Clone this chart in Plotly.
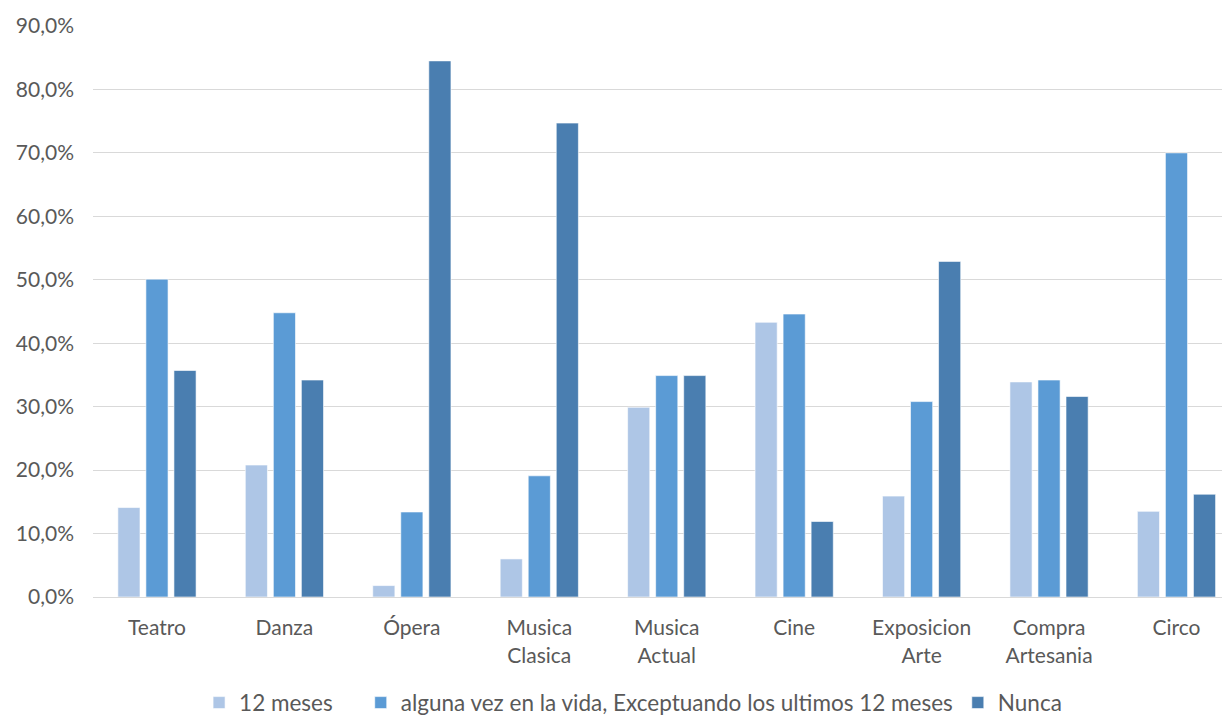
import plotly.graph_objects as go

categories = ["Teatro", "Danza", "Ópera", "Musica<br>Clasica", "Musica<br>Actual",
              "Cine", "Exposicion<br>Arte", "Compra<br>Artesania", "Circo"]
series_names = ["12 meses",
                "alguna vez en la vida, Exceptuando los ultimos 12 meses",
                "Nunca"]
doce_meses = [14.1, 20.8, 1.8, 6.0, 29.9, 43.3, 15.9, 33.9, 13.5]
alguna_vez = [50.1, 44.8, 13.4, 19.1, 34.9, 44.6, 30.8, 34.2, 70.0]
nunca = [35.7, 34.2, 84.5, 74.7, 34.9, 11.9, 52.9, 31.6, 16.2]
colors = ["#AEC6E6", "#5B9BD5", "#4A7EB0"]
y_ticks = [0, 10, 20, 30, 40, 50, 60, 70, 80, 90]
y_tick_text = ["0,0%", "10,0%", "20,0%", "30,0%", "40,0%", "50,0%", "60,0%",
               "70,0%", "80,0%", "90,0%"]

legend_pad = ["\u00a0" * 4, "", ""]
x_pos = list(range(len(categories)))

fig = go.Figure()
for name, pad, vals, col in zip(series_names, legend_pad,
                                [doce_meses, alguna_vez, nunca], colors):
    fig.add_trace(go.Bar(
        x=x_pos, y=vals, name=name + pad,
        marker=dict(color=col, line=dict(color="rgba(255,255,255,0.6)", width=1)),
    ))

font_family = "Lato, 'Open Sans', sans-serif"
fig.update_layout(
    width=1222, height=707,
    paper_bgcolor="white", plot_bgcolor="white",
    margin=dict(l=85, r=0, t=18, b=118, autoexpand=False),
    barmode="group", bargap=0.34, bargroupgap=0.21,
    font=dict(family=font_family, size=21, color="#595959"),
    legend=dict(orientation="h", x=0.475, xanchor="center",
                yref="container", y=0.017, yanchor="middle",
                font=dict(size=22.5, color="#595959"), traceorder="normal",
                itemwidth=30),
    showlegend=True,
)
fig.update_yaxes(range=[0, 90], tickvals=y_ticks, ticktext=y_tick_text,
                 showgrid=True, gridcolor="#D9D9D9", gridwidth=1,
                 zeroline=True, zerolinecolor="#D9D9D9", zerolinewidth=1,
                 showline=False, ticks="", ticklen=0, ticklabelstandoff=18,
                 tickfont=dict(size=21, color="#595959"))
fig.update_xaxes(range=[-0.502, 8.42], tickvals=x_pos, ticktext=categories,
                 showgrid=False, zeroline=False,
                 showline=True, linecolor="#D9D9D9", linewidth=1, ticks="",
                 ticklabelstandoff=12,
                 tickfont=dict(size=21, color="#595959"))

fig.write_html("out.html")
